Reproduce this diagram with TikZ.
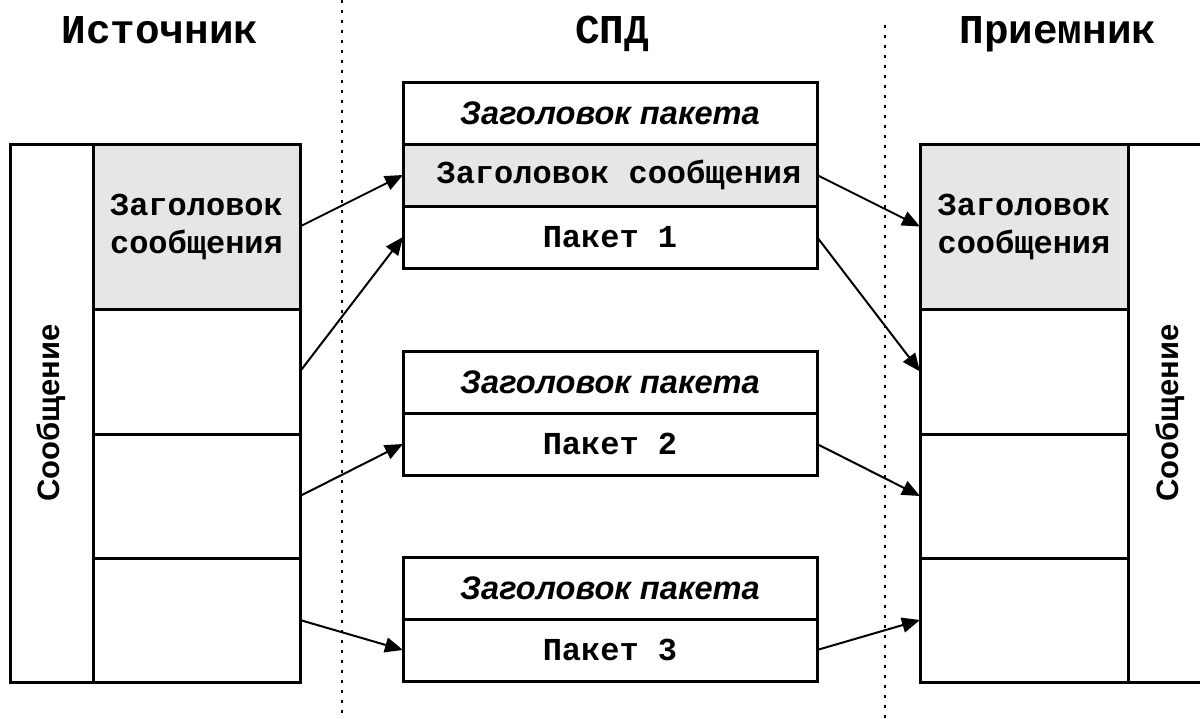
\documentclass[tikz,border=0pt]{standalone}
\usepackage{fontspec}
\usetikzlibrary{arrows.meta}
\newfontfamily\monof{Liberation Mono}
\newfontfamily\sansf{Liberation Sans}
\definecolor{hdrgray}{HTML}{E6E6E6}
\begin{document}
\begin{tikzpicture}[x=0.5pt,y=-0.5pt,
  cell/.style={draw=black, line width=1.5pt, fill=white, inner sep=0pt, outer sep=0pt, align=center,
    font=\monof\bfseries\fontsize{16}{19}\selectfont},
  graycell/.style={cell, fill=hdrgray},
  vlabel/.style={font=\sansf\bfseries\fontsize{15.5}{18}\selectfont, rotate=90},
  pfont/.style={font=\sansf\bfseries\itshape\fontsize{16.3}{19}\selectfont},
  title/.style={font=\monof\bfseries\fontsize{20.5}{24}\selectfont, inner sep=0pt, anchor=base},
  conn/.style={line width=1pt, -{Triangle[length=9pt,width=7.5pt]}},
  sep/.style={line width=1pt, dash pattern=on 1.5pt off 3.5pt}
]
\useasboundingbox (0,0) rectangle (1200,718);
\clip (0,0) rectangle (1200,718);
\fill[white] (0,0) rectangle (1200,718);

% separators
\coordinate (s1a) at (342,0);
\coordinate (s1b) at (342,718);
\coordinate (s2a) at (885,25);
\coordinate (s2b) at (885,718);
\draw[sep] (s1a) -- (s1b);
\draw[sep] (s2a) -- (s2b);

% titles
\node[title] (tsrc) at (160,43) {Источник};
\node[title] (tnet) at (612,43) {СПД};
\node[title] (tdst) at (1058,43) {Приемник};

% source message
\node[cell, minimum width=41.5pt, minimum height=269pt] (Lmsg) at (51.5,413) {};
\node[vlabel] (Lmsgt) at (51.5,413) {Сообщение};
\node[graycell, minimum width=103.5pt, minimum height=82.5pt] (Lh) at (196.5,226.5) {Заголовок\\сообщения};
\node[cell, minimum width=103.5pt, minimum height=62.5pt] (L2) at (196.5,371.5) {};
\node[cell, minimum width=103.5pt, minimum height=62pt] (L3) at (196.5,496) {};
\node[cell, minimum width=103.5pt, minimum height=62pt] (L4) at (196.5,620) {};

% packets
\node[cell, pfont, minimum width=207pt, minimum height=31pt] (P1h) at (610,113) {Заголовок пакета};
\node[graycell, minimum width=207pt, minimum height=31pt] (P1m) at (610,175) {};
\node[font=\monof\bfseries\fontsize{16}{19}\selectfont, inner sep=0pt] (P1mt) at (619,175) {Заголовок сообщения};
\node[cell, minimum width=207pt, minimum height=31pt] (P1) at (610,237) {Пакет 1};

\node[cell, pfont, minimum width=207pt, minimum height=31pt] (P2h) at (610,382) {Заголовок пакета};
\node[cell, minimum width=207pt, minimum height=31pt] (P2) at (610,444) {Пакет 2};

\node[cell, pfont, minimum width=207pt, minimum height=31pt] (P3h) at (610,588) {Заголовок пакета};
\node[cell, minimum width=207pt, minimum height=31pt] (P3) at (610,650) {Пакет 3};

% receiver message
\node[cell, minimum width=42pt, minimum height=269pt] (Rmsg) at (1170,413) {};
\node[vlabel] (Rmsgt) at (1170,413) {Сообщение};
\node[graycell, minimum width=104pt, minimum height=82.5pt] (Rh) at (1024,226.5) {Заголовок\\сообщения};
\node[cell, minimum width=104pt, minimum height=62.5pt] (R2) at (1024,371.5) {};
\node[cell, minimum width=104pt, minimum height=62pt] (R3) at (1024,496) {};
\node[cell, minimum width=104pt, minimum height=62pt] (R4) at (1024,620) {};

% connectors
\draw[conn] (Lh.east) -- (P1m.west);
\draw[conn] (L2.east) -- (P1.west);
\draw[conn] (L3.east) -- (P2.west);
\draw[conn] (L4.east) -- (P3.west);
\draw[conn] (P1m.east) -- (Rh.west);
\draw[conn] (P1.east) -- (R2.west);
\draw[conn] (P2.east) -- (R3.west);
\draw[conn] (P3.east) -- (R4.west);
\end{tikzpicture}
\end{document}
